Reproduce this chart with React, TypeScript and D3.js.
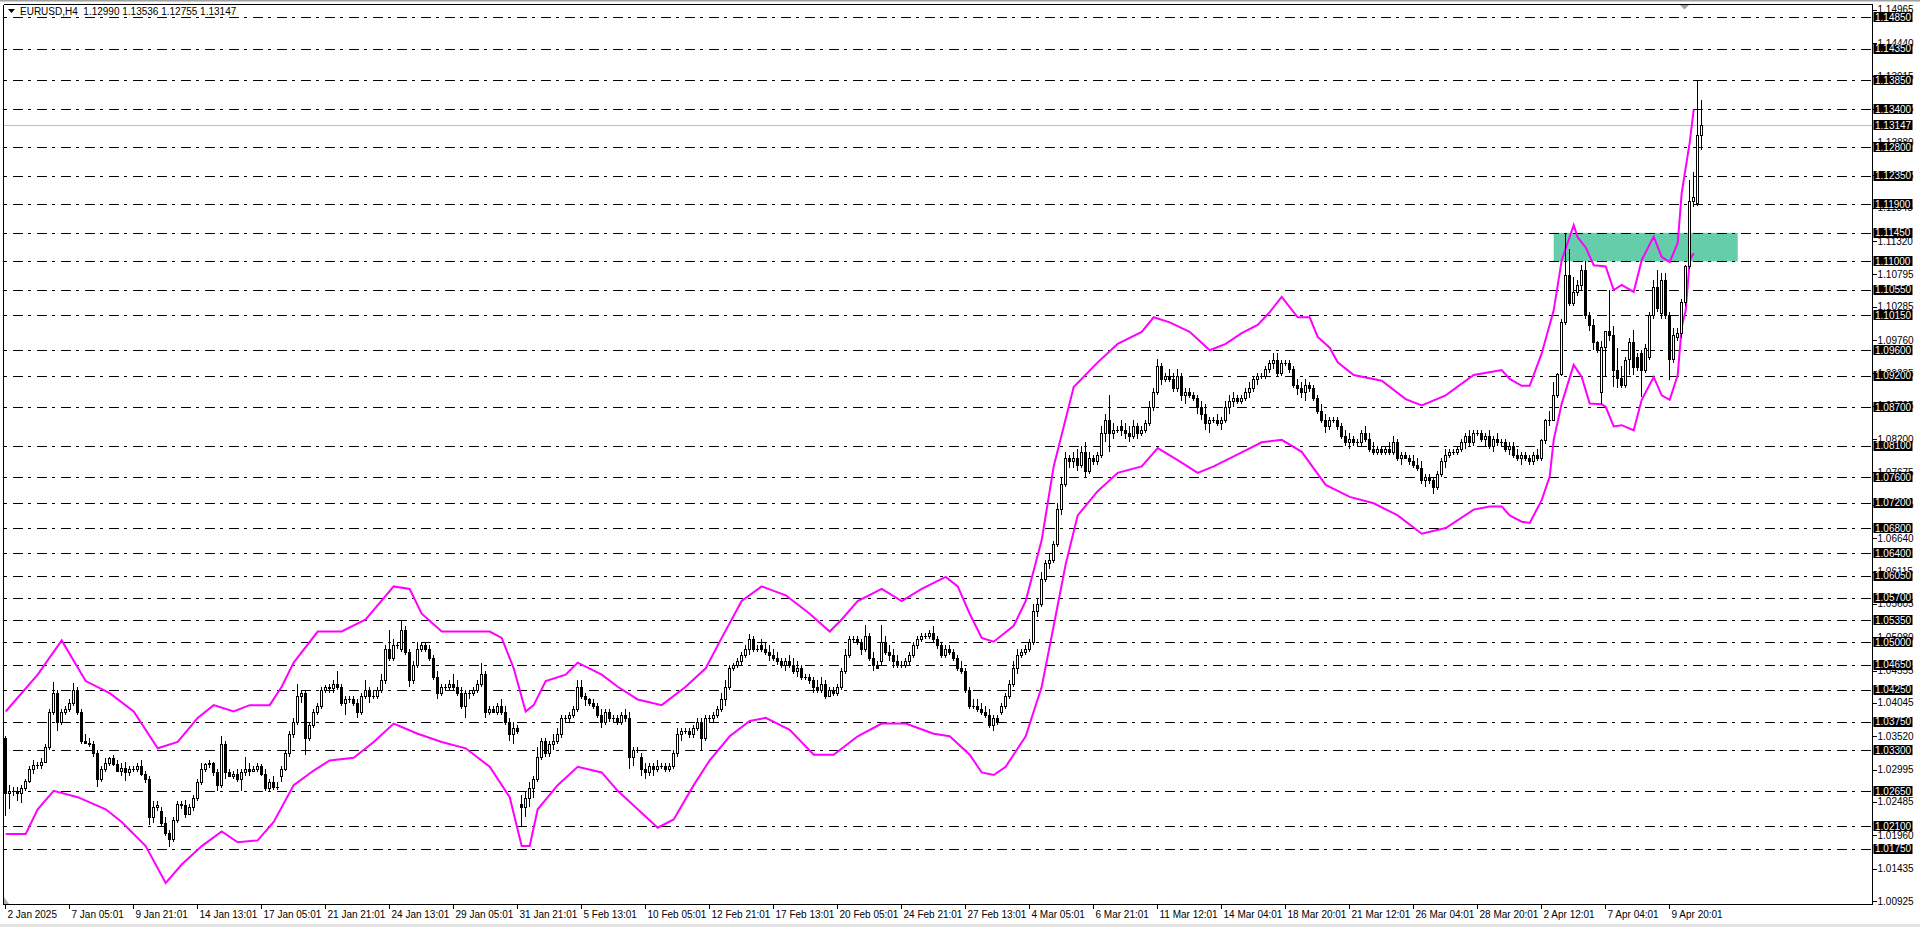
import React from 'react';
import * as d3 from 'd3';

// EURUSD H4 candles, prices stored as 1/10000 above 1.0000
const opens = [
  350,262,265,
  266,262,270,282,300,306, 307,312,335,390,420,375, 390,395,405,425,390,345, 342,340,325,285,300,310, 317,308,298,302,295,300, 300,305,292,285,225,240,
  235,215,200,190,220,245, 244,230,240,255,280,300, 308,310,295,275,340,295, 290,292,285,295,300,298, 300,305,292,270,280,272,
  290,300,325,355,375,415, 420,350,370,390,400,425, 430,428,435,430,405,410, 410,405,390,415,425,415, 415,425,440,490,475,495,
  490,520,485,440,465,490, 495,490,475,445,420,430, 430,435,430,420,400,420, 420,425,435,450,390,395, 390,400,390,375,355,365,
  245,240,255,270,285,320, 345,325,340,345,355,380, 380,385,395,430,415,410, 405,400,385,375,390,380, 380,375,385,380,320,330,
  320,300,295,305,300,305, 305,300,305,325,355,360, 360,355,365,375,350,380, 380,385,395,410,430,460, 465,470,480,490,505,490,
  495,490,485,480,475,470, 465,470,465,455,460,445, 445,440,430,425,435,415, 425,420,430,455,480,505, 505,500,490,510,475,465,
  470,500,485,480,470,465, 465,470,480,495,505,510, 510,515,505,495,480,490, 485,475,460,455,425,400, 400,395,390,385,370,380,
  390,400,415,435,460,480, 485,490,500,550,560,600, 625,630,655,710,750,790, 785,790,780,800,770,790, 785,795,830,850,830,835,
  840,835,830,825,840,830, 835,845,870,895,935,915, 920,915,900,920,890,895, 890,885,870,860,845,850, 850,845,850,870,880,885,
  880,885,895,900,915,920, 920,930,940,945,925,940, 940,930,905,900,895,905, 900,885,865,850,840,850, 850,840,825,815,820,815,
  815,830,820,805,800,805, 800,805,800,815,790,795, 790,785,780,775,755,760, 755,745,765,785,795,800, 800,805,815,825,815,830,
  830,820,825,810,820,815, 815,805,810,795,790,795, 790,785,795,790,818,850, 850,890,923,1005,1078,1034, 1052,1063,1086,1015,1000,973,
  895,965,990,984,929,916, 905,947,973,950,955,929, 950,1015,1060,1018,1070,1015, 947,981,987,1036,1092,1195,
  1192,1299,
];
const highs = [
  352,275,272,
  272,275,285,305,315,312, 318,340,395,437,425,395, 400,410,436,430,395,355, 350,345,330,305,318,320, 322,315,310,312,305,305, 310,314,298,290,250,250,
  240,225,205,225,250,250, 252,245,260,285,310,310, 315,312,300,353,345,300, 298,300,300,320,310,305, 310,308,300,285,290,280,
  305,330,360,380,434,425, 425,375,395,405,430,432, 435,440,455,435,415,415, 415,410,420,440,430,425, 430,450,495,520,505,500,
  533,525,490,470,500,500, 500,495,480,455,435,435, 440,450,440,430,425,425, 430,440,468,455,400,400, 405,410,400,380,375,370,
  260,265,280,290,335,350, 350,345,355,365,385,385, 390,400,440,440,420,412, 410,405,395,395,395,385, 385,390,395,390,335,335,
  325,310,310,310,315,310, 310,310,330,365,365,365, 365,370,380,380,385,385, 390,400,420,440,465,468, 475,485,495,513,510,495,
  505,500,495,490,485,475, 475,480,475,470,465,450, 450,445,440,445,440,430, 430,435,460,490,510,510, 510,505,528,515,485,470,
  528,510,495,490,480,470, 475,485,500,510,515,515, 520,525,510,500,495,495, 490,480,470,460,430,410, 410,405,400,395,385,385,
  405,420,440,470,490,490, 495,505,560,570,610,630, 640,660,720,760,800,795, 800,805,810,815,800,795, 800,840,860,890,845,840,
  850,845,840,850,845,840, 850,880,900,947,940,925, 930,925,930,925,900,900, 895,890,880,875,855,855, 860,855,880,890,895,890,
  890,900,910,920,925,925, 935,945,955,955,945,945, 945,935,915,910,915,910, 905,890,875,860,855,855, 855,845,835,830,825,820,
  835,840,830,815,810,810, 810,815,825,820,800,800, 795,795,790,785,765,765, 760,770,790,805,805,805, 810,820,830,835,835,835,
  835,830,835,825,830,820, 820,815,815,805,800,800, 795,800,805,820,852,865, 910,925,1010,1145,1120,1075, 1070,1095,1100,1020,1010,975,
  975,990,1055,999,963,935, 950,979,992,955,960,970, 1020,1070,1086,1081,1081,1020, 995,995,1040,1095,1228,1241,
  1386,1353.6,
];
const lows = [
  226,238,258,
  250,247,265,278,292,300, 300,310,330,385,360,370, 385,390,400,385,340,340, 335,320,272,280,295,305, 305,295,290,282,290,296, 296,290,278,212,215,235,
  210,195,178,185,215,238, 224,228,235,250,275,295, 302,290,265,270,285,288, 285,280,266,290,290,295, 296,290,265,266,268,268,
  280,298,320,350,370,405, 322,345,365,385,395,420, 420,420,425,400,385,405, 400,380,385,410,405,410, 410,420,435,470,470,490,
  485,480,430,435,460,485, 485,470,440,410,415,425, 425,425,415,395,380,410, 415,420,430,380,385,388, 385,385,370,345,340,355,
  210,225,240,255,280,315, 320,320,330,340,350,375, 375,380,390,410,400,400, 395,380,365,370,375,375, 370,370,375,300,305,325,
  290,285,290,290,295,300, 295,295,300,320,345,355, 350,350,360,330,345,375, 375,380,390,400,425,455, 460,465,475,480,485,485,
  485,480,470,470,465,460, 455,460,450,445,440,440, 435,420,420,420,410,415, 415,415,425,450,475,500, 495,480,485,470,455,460,
  465,480,470,460,460,460, 460,465,475,490,500,505, 505,500,490,475,475,480, 470,455,450,420,395,395, 390,385,380,365,360,370,
  385,395,410,430,450,475, 480,485,495,540,555,595, 615,625,650,700,745,775, 775,770,775,760,765,780, 780,790,815,800,820,830,
  825,820,815,820,820,825, 830,840,865,890,905,910, 910,895,895,880,875,885, 880,860,850,835,830,845, 840,835,845,860,870,875,
  875,880,885,895,905,915, 915,925,930,920,920,935, 925,900,890,885,880,895, 880,860,845,830,835,845, 835,820,810,805,810,810,
  810,815,800,795,795,795, 795,795,795,785,780,788, 780,775,770,750,745,750, 733,740,760,775,790,795, 795,800,805,810,810,825,
  815,810,805,800,810,810, 800,795,790,785,780,785, 780,780,785,785,812,840, 848,885,920,1000,1030,1030, 1045,1055,1010,990,960,955,
  876,920,975,902,900,900, 900,921,921,928,887,925, 945,1010,1020,1010,1010,913, 940,975,980,1030,1088,1185,
  1188,1275.5,
];
const closes = [
  262,265,266,
  262,270,282,300,306,307, 312,335,390,420,375,390, 395,405,425,390,345,342, 340,325,285,300,310,317, 308,298,302,295,300,300, 305,292,285,225,240,244,
  215,200,190,220,245,244, 230,240,255,280,300,308, 310,295,275,340,295,290, 292,285,295,300,298,300, 305,292,270,280,272,272,
  300,325,355,375,415,420, 350,370,390,400,425,430, 428,435,430,405,410,410, 405,390,415,425,415,415, 425,440,490,475,495,495,
  520,485,440,465,490,495, 490,475,445,420,430,430, 435,430,420,400,420,420, 425,435,450,390,395,390, 400,390,375,355,365,360,
  240,255,270,285,320,345, 325,340,345,355,380,380, 385,395,430,415,410,405, 400,385,375,390,380,380, 375,385,380,320,330,330,
  300,295,305,300,305,305, 300,305,325,355,360,360, 355,365,375,350,380,380, 385,395,410,430,460,465, 470,480,490,505,490,490,
  490,485,480,475,470,465, 470,465,455,460,445,445, 440,430,425,435,415,425, 420,430,455,480,505,505, 500,490,510,475,465,460,
  500,485,480,470,465,465, 470,480,495,505,510,510, 515,505,495,480,490,485, 475,460,455,425,400,400, 395,390,385,370,380,375,
  400,415,435,460,480,485, 490,500,550,560,600,625, 630,655,710,750,790,785, 790,780,800,770,790,785, 795,830,850,830,835,835,
  835,830,825,840,830,835, 845,870,895,935,915,920, 915,900,920,890,895,890, 885,870,860,845,850,850, 845,850,870,880,885,880,
  885,895,900,915,920,920, 930,940,945,925,940,940, 930,905,900,895,905,900, 885,865,850,840,850,850, 840,825,815,820,815,815,
  830,820,805,800,805,800, 805,800,815,790,795,790, 785,780,775,755,760,755, 745,765,785,795,800,800, 805,815,825,815,830,830,
  820,825,810,820,815,815, 805,810,795,790,795,790, 785,795,790,818,850,850, 890,923,1005,1078,1034,1052, 1063,1086,1015,1000,973,960,
  965,990,984,929,916,905, 944,973,934,934,929,963, 1015,1060,1026,1070,1015,947, 984,987,1036,1092,1195,1202,
  1299,1314.7,
];

// indicator bands: [bar, price in 1/10000 above 1.0]
const upperBand: [number, number][] = [
  [0,391],[8,449],[14,503],[20,439],[26,420],[32,391],[38,333],[43,343],[48,381],[52,401],[57,391],[61,401],[66,401],[69,430],
  [72,468],[78,517],[84,517],[90,536],[97,588],[101,584],[104,545],[109,517],[115,517],[121,517],[124,507],[127,459],[130,391],
  [132,401],[135,439],[140,449],[143,468],[149,449],[153,430],[158,410],[164,401],[170,430],[175,459],[179,507],[184,565],
  [189,588],[195,574],[201,545],[206,517],[209,536],[213,565],[219,584],[224,565],[229,584],[235,603],[238,588],[241,545],
  [244,507],[247,501],[252,526],[255,565],[259,661],[262,777],[267,902],[273,941],[278,970],[284,989],[287,1012],[291,1004],
  [296,989],[301,960],[305,970],[309,987],[313,1000],[316,1020],[319,1044],[323,1012],[326,1012],[328,981],[331,964],[333,941],
  [337,921],[344,912],[350,883],[354,873],[360,889],[367,921],[374,929],[376,915],[379,904],[381,904],[384,955],[387,1023],
  [389,1102],[392,1157],[393,1138],[395,1122],[397,1094],[400,1092],[402,1055],[404,1063],[407,1052],[409,1102],[412,1139],
  [414,1107],[416,1099],[418,1129],[419,1208],[421,1287],[422,1339],
];
const lowerBand: [number, number][] = [
  [0,198],[5,198],[8,237],[12,266],[18,256],[25,237],[29,217],[35,179],[40,121],[44,150],[49,179],[54,202],[58,185],[63,188],
  [67,217],[72,275],[77,298],[81,314],[87,318],[92,343],[97,372],[103,356],[109,343],[115,333],[121,304],[126,256],[129,179],
  [131,179],[133,237],[138,275],[143,304],[149,295],[153,266],[158,237],[163,208],[167,221],[172,275],[176,314],[181,352],
  [186,376],[190,381],[196,362],[202,323],[207,323],[213,352],[219,372],[225,372],[232,356],[236,352],[241,323],[244,295],
  [247,291],[250,304],[255,352],[259,430],[262,526],[265,623],[268,700],[273,738],[278,767],[284,777],[288,806],[293,787],
  [298,767],[302,777],[308,796],[314,815],[319,819],[324,800],[330,748],[336,729],[342,719],[348,700],[354,671],[360,680],
  [367,709],[371,714],[374,714],[376,700],[379,690],[381,688],[384,724],[386,761],[387,819],[389,876],[392,937],[394,918],
  [396,876],[399,875],[400,871],[402,840],[404,842],[407,834],[409,882],[412,918],[414,889],[416,882],[418,921],[419,997],
  [420,1023],[421,1102],[422,1113],
];

// horizontal dash-dot levels with their black price tags
const levels = [
  1.1485, 1.1435, 1.1385, 1.134, 1.128, 1.1235, 1.119, 1.1145, 1.11, 1.1055, 1.1015, 1.096, 1.092, 1.087, 1.081,
  1.076, 1.072, 1.068, 1.064, 1.0605, 1.057, 1.0535, 1.05, 1.0465, 1.0425, 1.0375, 1.033, 1.0265, 1.021, 1.0175,
];
const priceTicks = [
  1.14965, 1.1444, 1.13915, 1.13405, 1.1288, 1.12355, 1.11845, 1.1132, 1.10795, 1.10285, 1.0976, 1.09235, 1.08725, 1.082,
  1.07675, 1.07165, 1.0664, 1.06115, 1.05605, 1.0508, 1.04555, 1.04045, 1.0352, 1.02995, 1.02485, 1.0196, 1.01435, 1.00925,
];
const timeLabels = [
  '2 Jan 2025', '7 Jan 05:01', '9 Jan 21:01', '14 Jan 13:01', '17 Jan 05:01', '21 Jan 21:01', '24 Jan 13:01',
  '29 Jan 05:01', '31 Jan 21:01', '5 Feb 13:01', '10 Feb 05:01', '12 Feb 21:01', '17 Feb 13:01', '20 Feb 05:01',
  '24 Feb 21:01', '27 Feb 13:01', '4 Mar 05:01', '6 Mar 21:01', '11 Mar 12:01', '14 Mar 04:01', '18 Mar 20:01',
  '21 Mar 12:01', '26 Mar 04:01', '28 Mar 20:01', '2 Apr 12:01', '7 Apr 04:01', '9 Apr 20:01',
];
const barsPerLabel = 16;
const lastPrice = 1.13147;
const zone = { from: 387, to: 433, top: 1.1145, bottom: 1.11 };
const title = 'EURUSD,H4  1.12990 1.13536 1.12755 1.13147';

const W = 1920;
const H = 927;
const L = 3.5;
const T = 4.5;
const R = 1872.5;
const B = 904.5;
const font = '"Liberation Sans", Arial, sans-serif';

const px = (v: number) => 1 + v / 10000;

export default function App() {
  const x = d3.scaleLinear().domain([0, 424]).range([5.7, 5.7 + 424 * 4]);
  const y = d3.scaleLinear().domain([1.00925, 1.1485]).range([901, 17]);
  const cx = (i: number) => Math.floor(x(i)) + 0.5;
  const ry = (p: number) => Math.round(y(p)) + 0.5;

  const band = d3
    .line<[number, number]>()
    .x((d) => x(d[0]))
    .y((d) => y(px(d[1])));

  return (
    <div>
      <style>{'body{margin:0;background:#fff}'}</style>
      <svg width={W} height={H} style={{ display: 'block' }} fontFamily={font}>
        <rect x={0} y={0} width={W} height={H} fill="#fff" />
        <rect x={0} y={0} width={W} height={1.5} fill="#a0a0a0" />
        <rect x={0} y={924} width={W} height={3} fill="#e4e4e4" />

        {/* support / resistance zone */}
        <rect
          x={x(zone.from)}
          y={y(zone.top)}
          width={x(zone.to) - x(zone.from)}
          height={y(zone.bottom) - y(zone.top)}
          fill="#66CDAA"
        />

        {/* dash-dot horizontal levels */}
        {levels.map((p) => (
          <line key={'l' + p} x1={L} x2={R} y1={ry(p)} y2={ry(p)} stroke="#000" strokeWidth={1}
            strokeDasharray="3,6,10,5" shapeRendering="crispEdges" />
        ))}
        <line x1={L} x2={R} y1={ry(lastPrice)} y2={ry(lastPrice)} stroke="#c0c0c0" strokeWidth={1} shapeRendering="crispEdges" />

        {/* bands */}
        <path d={band(upperBand) || ''} fill="none" stroke="#ff00ff" strokeWidth={2} />
        <path d={band(lowerBand) || ''} fill="none" stroke="#ff00ff" strokeWidth={2} />

        {/* candles */}
        <g shapeRendering="crispEdges">
          {closes.map((c, i) => {
            const o = opens[i];
            const bull = c >= o;
            const top = Math.round(y(px(Math.max(o, c))));
            const bot = Math.round(y(px(Math.min(o, c))));
            const xc = cx(i);
            return (
              <g key={i}>
                <line x1={xc} x2={xc} y1={y(px(highs[i]))} y2={y(px(lows[i]))} stroke="#000" strokeWidth={1} />
                {bot - top < 1 ? (
                  <line x1={xc - 1.5} x2={xc + 1.5} y1={top + 0.5} y2={top + 0.5} stroke="#000" />
                ) : (
                  <rect x={xc - 1} y={top + 0.5} width={2} height={bot - top} fill={bull ? '#fff' : '#000'} stroke="#000" strokeWidth={1} />
                )}
              </g>
            );
          })}
        </g>

        {/* frame */}
        <g shapeRendering="crispEdges" stroke="#000" strokeWidth={1}>
          <line x1={L} x2={R} y1={T} y2={T} />
          <line x1={L} x2={R} y1={B} y2={B} />
          <line x1={L} x2={L} y1={T} y2={B} />
          <line x1={R} x2={R} y1={T} y2={B} />
        </g>
        <path d="M1680,5 L1689,5 L1684.5,9.5 Z" fill="#a0a0a0" />
        <path d="M4,897 L4,904 L9,904 Z" fill="#b0b0b0" />

        {/* price scale */}
        {priceTicks.map((p) => (
          <g key={'t' + p}>
            <line x1={R} x2={R + 4} y1={ry(p)} y2={ry(p)} stroke="#000" shapeRendering="crispEdges" />
            <text x={R + 5} y={y(p) + 3.5} fontSize={10} fill="#000">{p.toFixed(5)}</text>
          </g>
        ))}
        {[...levels, lastPrice].map((p) => (
          <g key={'b' + p}>
            <rect x={R + 1} y={Math.round(y(p)) - 5} width={39} height={10} fill="#000" />
            <text x={R + 2.5} y={y(p) + 3.5} fontSize={10} fill="#fff">{p.toFixed(5)}</text>
          </g>
        ))}

        {/* time scale */}
        {timeLabels.map((s, k) => {
          const tx = cx(k * barsPerLabel);
          return (
            <g key={s}>
              <line x1={tx} x2={tx} y1={B} y2={B + 4} stroke="#000" shapeRendering="crispEdges" />
              <text x={tx + 2} y={918} fontSize={10} fill="#000">{s}</text>
            </g>
          );
        })}

        {/* title */}
        <path d="M8,9 L15,9 L11.5,13 Z" fill="#000" />
        <text x={20} y={15} fontSize={10} fill="#000" xmlSpace="preserve">{title}</text>
      </svg>
    </div>
  );
}
